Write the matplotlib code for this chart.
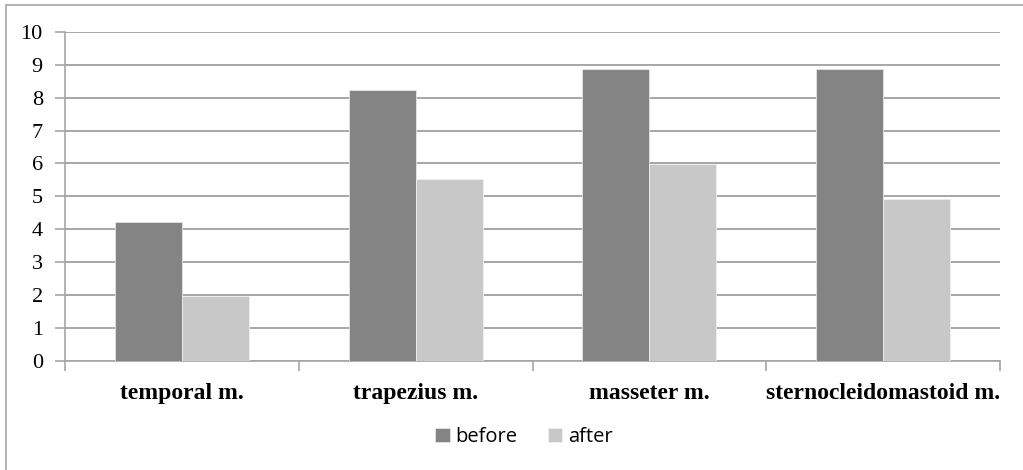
import matplotlib as mplt
from matplotlib import pyplot as plt
import numpy as np

# data
muscles = ['temporal m.', 'trapezius m.', 'masseter m.', 'sternocleidomastoid m.']
before = [4.22, 8.24, 8.87, 8.87]
after = [1.96, 5.52, 5.99, 4.91]
yticks = list(range(0, 11))

plt.rcParams['font.family'] = 'Liberation Serif'

W, H = 1023, 470
fig = plt.figure(figsize=(W / 100, H / 100), dpi=100)

# outer chart frame (only top/left visible in the reference)
frame = mplt.patches.Rectangle((6 / W, -0.2), 1.2, 1.2 - 5 / H, transform=fig.transFigure,
                               fill=False, edgecolor='#a6a6a6', linewidth=1.2)
fig.patches.append(frame)

ax = fig.add_axes([65 / W, (H - 360.5) / H, (1000 - 65) / W, (360.5 - 32) / H])

x = np.arange(len(muscles))
bw = 0.287
ax.bar(x - bw / 2, before, bw, color='#848484', edgecolor='#e6e6e6', linewidth=0.6, label='before', zorder=3)
ax.bar(x + bw / 2, after, bw, color='#c8c8c8', edgecolor='#eeeeee', linewidth=0.6, label='after', zorder=3)

ax.set_xlim(-0.5, len(muscles) - 0.5)
ax.set_ylim(0, 10)
ax.set_yticks(yticks)
ax.set_yticklabels([str(t) for t in yticks])
ax.yaxis.grid(True, color='#a6a6a6', linewidth=1.4, zorder=0)
ax.tick_params(axis='y', length=7, width=1.2, color='#a6a6a6', pad=9, labelsize=16)

# category labels centred, boundary ticks on the x axis
ax.set_xticks(np.arange(-0.5, len(muscles)), minor=False)
ax.set_xticklabels([''] * (len(muscles) + 1))
ax.tick_params(axis='x', length=7, width=1.2, color='#a6a6a6')
for i, m in enumerate(muscles):
    ax.text(i, -0.68, m, ha='center', va='top', fontweight='bold', fontsize=17,
            transform=ax.transData)

for s in ['top', 'right']:
    ax.spines[s].set_visible(False)
for s in ['left', 'bottom']:
    ax.spines[s].set_color('#a6a6a6')
    ax.spines[s].set_linewidth(1.2)

leg = fig.legend(loc='center', bbox_to_anchor=(524 / W, 1 - 437 / H), ncol=2, frameon=False,
                 prop={'family': 'Open Sans', 'size': 14.5}, handlelength=0.7, handleheight=0.7,
                 handletextpad=0.3, columnspacing=1.5)

fig.savefig('out.png', dpi=100)
